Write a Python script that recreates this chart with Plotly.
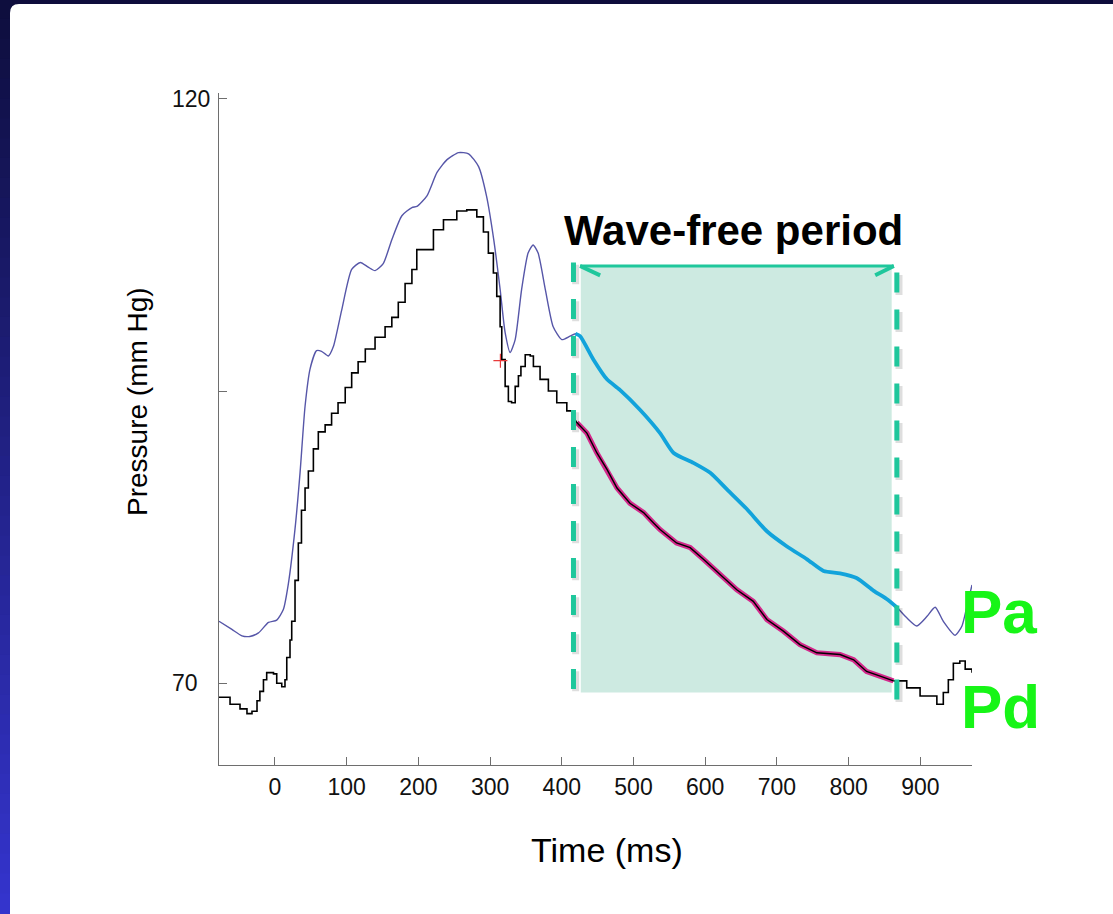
import plotly.graph_objects as go

# ---- Aortic pressure (Pa): time in ms, pressure in mm Hg ----
time_pa = [-78, -60, -46, -35, -23, -9, 2.5, 11.7, 18.7, 28, 35, 42, 49, 58, 65, 74.5,
           81.5, 93, 107, 119, 130, 139.6, 151, 163, 177, 191, 198, 212, 226, 240, 256,
           270, 284, 295, 305, 314, 321, 328, 335, 344, 353, 360, 367, 377, 388, 400,
           411.6, 419, 425.5, 444, 463, 481, 509, 537, 556, 583.5, 607, 630, 658, 686,
           714, 742, 765, 788, 811, 835, 853, 867, 881, 895, 909, 920.6, 932, 948.5,
           958, 965, 972]
pa = [75.3, 74.6, 74.05, 74.0, 74.3, 75.2, 75.4, 76.3, 78.5, 83.2, 88.0, 93.7, 96.9,
      98.45, 98.4, 98.0, 98.8, 101.9, 105.4, 106.0, 105.6, 105.3, 105.9, 107.95, 110.0,
      110.7, 110.8, 111.7, 113.7, 114.8, 115.4, 115.3, 114.2, 111.7, 108.0, 103.7,
      100.0, 98.3, 99.4, 103.7, 106.8, 107.5, 106.8, 103.7, 100.5, 99.4, 99.7, 99.9,
      99.7, 97.7, 96.0, 95.1, 93.4, 91.4, 89.7, 88.85, 88.0, 86.6, 84.9, 83.0, 81.7,
      80.6, 79.6, 79.4, 79.0, 77.9, 77.2, 76.5, 75.6, 74.9, 75.7, 76.5, 75.3, 74.1,
      74.9, 76.6, 78.4]

# ---- Distal pressure (Pd) ----
time_pd = [-78, -62.6, -48.7, -39, -32, -25, -21, -16, -11.5, -2, 2.5, 9.5, 14, 16.5,
           21, 23.4, 28, 32.6, 37, 42, 46.6, 53.6, 60.5, 70, 79, 88, 98, 107, 116, 126,
           139.6, 153.6, 163, 172, 181.5, 191, 197.8, 221, 235, 253.6, 267.5, 281.5,
           290.7, 297.6, 304.6, 309.3, 314, 316.3, 321, 325.5, 330, 335, 339.5, 343,
           349, 356, 360.4, 369.7, 381.3, 393, 407, 416, 421, 435, 449, 463, 477, 495,
           514, 528, 537, 560, 579, 597.5, 621, 644, 667, 686, 709, 732, 755.6, 788,
           807, 825, 844, 862.5, 881, 899.6, 923, 932, 939, 946, 955, 962.5, 972]
pd_vals = [68.8, 68.2, 67.8, 67.4, 67.6, 68.5, 69.3, 70.3, 70.9, 70.8, 70.0, 69.7,
           70.3, 72.2, 73.7, 75.3, 78.8, 82.0, 84.8, 86.7, 88.15, 90.05, 91.5, 92.1,
           93.1, 94.0, 95.3, 96.55, 97.5, 98.6, 99.6, 100.5, 101.3, 102.6, 104.2, 105.4,
           107.1, 108.8, 109.65, 110.4, 110.5, 109.9, 108.6, 106.8, 105.1, 103.1, 100.5,
           97.7, 95.4, 94.1, 94.0, 95.4, 96.3, 97.1, 98.1, 98.0, 97.1, 96.0, 95.0, 94.0,
           93.3, 92.8, 92.3, 91.4, 89.7, 88.3, 86.7, 85.4, 84.6, 83.7, 83.15, 82.0, 81.6,
           80.6, 79.3, 78.0, 77.0, 75.45, 74.45, 73.3, 72.6, 72.45, 72.0, 71.0, 70.6,
           70.2, 69.6, 68.9, 68.2, 69.2, 70.3, 71.7, 71.9, 71.2, 70.9]

# marker placed on the Pd trace
notch_t, notch_p = [314.4], [97.6]

# axis ticks
x_ticks = [0, 100, 200, 300, 400, 500, 600, 700, 800, 900]
x_ticktext = ["0", "100", "200", "300", "400", "500", "600", "700", "800", "900"]
y_ticks = [70, 95, 120]
y_ticktext = ["70\u2007", "", "120"]

# wave-free window
WFP_START, WFP_END = 418, 868          # highlighted part of the traces
SHADE_T0, SHADE_T1 = 426.5, 860        # shaded band
SHADE_P0, SHADE_P1 = 69.2, 105.7
DASH_L, DASH_R = 416.3, 867.2          # dashed boundaries
DASH_P0_L, DASH_P0_R, DASH_P1 = 69.5, 68.6, 106.0
STEP_END, STEP_RESUME = 416, 862.5     # Pd drawn as sample-and-hold outside this span

X_RANGE = [-78, 972]
Y_RANGE = [63, 120.5]

# page geometry (pixels)
W, H = 1113, 914
ML, MR, MT, MB = 219, W - 972, 93, 914 - 765
PW, PH = W - ML - MR, H - MT - MB


def px(x):
    return (x - ML) / PW


def py(y):
    return (H - MB - y) / PH


teal = "#1fc79c"

fig = go.Figure()


def pd_line(idx, shape, color, width):
    fig.add_trace(go.Scatter(x=[time_pd[i] for i in idx], y=[pd_vals[i] for i in idx],
                             mode="lines", line=dict(color=color, width=width, shape=shape),
                             hoverinfo="skip", showlegend=False))


# Pa full trace
fig.add_trace(go.Scatter(x=time_pa, y=pa, mode="lines",
                         line=dict(color="#5656a8", width=1.4, shape="spline", smoothing=0.6),
                         hoverinfo="skip", showlegend=False))
# Pa during the wave-free period
sel = [i for i, t in enumerate(time_pa) if WFP_START <= t <= WFP_END]
fig.add_trace(go.Scatter(x=[time_pa[i] for i in sel], y=[pa[i] for i in sel], mode="lines",
                         line=dict(color="#12a3db", width=3.8, shape="spline", smoothing=0.6),
                         hoverinfo="skip", showlegend=False))
# Pd highlight underlay
pd_line([i for i, t in enumerate(time_pd) if WFP_START <= t <= WFP_END], "linear", "#d42a8c", 5.2)
# Pd trace: stepped before and after the window, continuous inside it
pd_line([i for i, t in enumerate(time_pd) if t <= STEP_END], "hv", "#000000", 1.6)
pd_line([i for i, t in enumerate(time_pd) if STEP_END <= t <= STEP_RESUME], "linear", "#000000", 1.4)
pd_line([i for i, t in enumerate(time_pd) if t >= STEP_RESUME], "hv", "#000000", 1.6)

fig.add_trace(go.Scatter(x=notch_t, y=notch_p, mode="markers",
                         marker=dict(symbol="cross-thin", size=10,
                                     line=dict(color="#e83a3a", width=1.2)),
                         hoverinfo="skip", showlegend=False))

shapes = []
# white slide panel with rounded corner
r = 9
x0, y0, x1, y1 = 10, 4, 1130, 930
panel = (f"M {px(x0)},{py(y1)} L {px(x0)},{py(y0 + r)} "
         f"Q {px(x0)},{py(y0)} {px(x0 + r)},{py(y0)} "
         f"L {px(x1)},{py(y0)} L {px(x1)},{py(y1)} Z")
# left edge gradient of the slide background
N = 46
c_top, c_bot = (14, 14, 62), (52, 52, 204)
for k in range(N):
    f = k / (N - 1)
    col = tuple(round(a + (b - a) * f) for a, b in zip(c_top, c_bot))
    shapes.append(dict(type="rect", xref="paper", yref="paper", layer="below",
                       x0=px(-2), x1=px(12), y0=py(k * H / N - 1), y1=py((k + 1) * H / N + 1),
                       line=dict(width=0), fillcolor=f"rgb{col}"))
shapes.append(dict(type="path", xref="paper", yref="paper", layer="below", path=panel,
                   fillcolor="white", line=dict(width=0)))
# shaded wave-free band
shapes.append(dict(type="rect", xref="x", yref="y", layer="below",
                   x0=SHADE_T0, x1=SHADE_T1, y0=SHADE_P0, y1=SHADE_P1,
                   fillcolor="#cdeae1", line=dict(width=0)))
# dashed boundaries (soft shadow, then line)
for xt, p0 in ((DASH_L, DASH_P0_L), (DASH_R, DASH_P0_R)):
    shapes.append(dict(type="line", xref="x", yref="y", layer="above",
                       x0=xt + 3.0, x1=xt + 3.0, y0=p0 - 0.2, y1=DASH_P1 - 0.2,
                       line=dict(color="rgba(0,0,0,0.13)", width=7, dash="20px,17px")))
    shapes.append(dict(type="line", xref="x", yref="y", layer="above",
                       x0=xt, x1=xt, y0=p0, y1=DASH_P1,
                       line=dict(color=teal, width=5, dash="20px,17px")))
# top line with arrow heads
ARROW_T0, ARROW_T1, ARROW_P = SHADE_T0 - 1, SHADE_T1 + 3, 105.7
shapes.append(dict(type="line", xref="x", yref="y", layer="above",
                   x0=ARROW_T0, x1=ARROW_T1, y0=ARROW_P, y1=ARROW_P,
                   line=dict(color=teal, width=3)))
shapes.append(dict(type="line", xref="x", yref="y", layer="above",
                   x0=ARROW_T0, x1=ARROW_T0 + 28, y0=ARROW_P, y1=ARROW_P - 0.8,
                   line=dict(color=teal, width=4)))
shapes.append(dict(type="line", xref="x", yref="y", layer="above",
                   x0=ARROW_T1, x1=ARROW_T1 - 26, y0=ARROW_P, y1=ARROW_P - 0.8,
                   line=dict(color=teal, width=4)))

base_font = "Liberation Sans, Arial, sans-serif"
tick_font = dict(family=base_font, size=23, color="#111111")

annotations = [
    dict(text="Wave-free period", xref="paper", yref="paper", x=px(733), y=py(230.5),
         xanchor="center", yanchor="middle", showarrow=False,
         font=dict(family=base_font, size=42, color="#000000", weight="bold")),
    dict(text="Pa", xref="paper", yref="paper", x=px(959), y=py(611.5),
         xanchor="left", yanchor="middle", showarrow=False,
         font=dict(family=base_font, size=62, color="#17f517", weight="bold")),
    dict(text="Pd", xref="paper", yref="paper", x=px(959), y=py(706.8),
         xanchor="left", yanchor="middle", showarrow=False,
         font=dict(family=base_font, size=62, color="#17f517", weight="bold")),
    dict(text="Time (ms)", xref="paper", yref="paper", x=px(606.7), y=py(850),
         xanchor="center", yanchor="middle", showarrow=False,
         font=dict(family=base_font, size=34, color="#000000")),
    dict(text="Pressure (mm Hg)", xref="paper", yref="paper", x=px(137), y=py(402),
         xanchor="center", yanchor="middle", showarrow=False, textangle=-90,
         font=dict(family=base_font, size=28, color="#000000")),
]

axis_common = dict(showline=True, linecolor="#6e6e6e", linewidth=1.3, mirror=False,
                   showgrid=False, zeroline=False, ticks="inside", ticklen=8,
                   tickwidth=1.2, tickcolor="#6e6e6e", tickfont=tick_font)

fig.update_layout(
    width=W, height=H, autosize=False,
    margin=dict(l=ML, r=MR, t=MT, b=MB, pad=0),
    paper_bgcolor="#0e0d3c", plot_bgcolor="white",
    xaxis=dict(range=X_RANGE, tickvals=x_ticks, ticktext=x_ticktext,
               ticklabelstandoff=1, **axis_common),
    yaxis=dict(range=Y_RANGE, tickvals=y_ticks, ticktext=y_ticktext,
               ticklabelstandoff=3, **axis_common),
    shapes=shapes, annotations=annotations,
)

fig.write_html("out.html")
